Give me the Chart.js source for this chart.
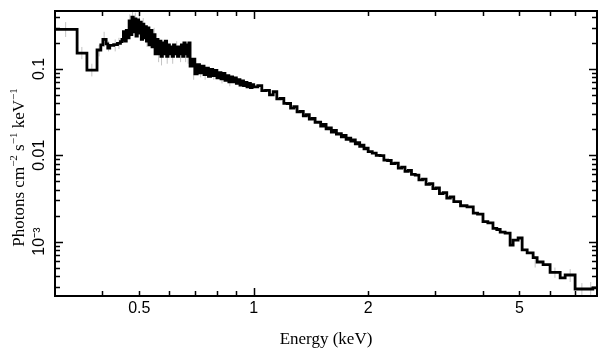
<!DOCTYPE html>
<html><head><meta charset="utf-8">
<script src="https://cdn.jsdelivr.net/npm/chart.js@4/dist/chart.umd.min.js"></script>
<style>html,body{margin:0;padding:0;background:#fff;}#wrap{width:609px;height:357px;}</style>
</head><body><div id="wrap"><canvas id="c" width="609" height="357"></canvas></div>
<script>
// Bin left edges (keV) and flux (photons cm^-2 s^-1 keV^-1)
const binLo = [
0.300,0.343,0.364,0.387,0.396,0.401,0.409,0.413,0.418,0.428,0.438,0.446,
0.450,0.454,0.458,0.462,0.466,0.470,0.474,0.478,0.482,0.486,0.490,0.494,0.498,0.502,0.506,0.510,0.514,0.518,0.522,0.526,
0.530,0.535,0.540,0.545,0.550,0.555,0.560,0.565,0.570,0.575,0.580,0.585,0.590,0.595,0.600,0.605,0.610,0.615,0.620,0.625,
0.630,0.635,0.640,0.645,0.650,0.655,0.660,0.665,0.670,0.675,
0.680,0.690,0.700,0.710,0.720,0.730,0.740,0.750,0.760,0.770,0.780,0.790,0.800,0.810,0.820,0.830,0.840,0.850,0.860,0.870,
0.880,0.890,0.900,0.910,0.920,0.930,0.940,0.950,0.960,0.970,0.980,0.990,
1.000,1.025,1.050,1.075,1.100,1.125,1.150,1.175,1.200,1.225,1.250,1.275,1.300,1.325,1.350,1.375,1.400,1.425,1.450,1.475,
1.500,1.525,1.550,1.575,1.600,1.625,1.650,1.675,1.700,1.725,1.750,1.775,1.800,1.825,1.850,1.875,1.900,1.925,1.950,1.975,
2.000,2.050,2.100,2.150,2.200,2.250,2.300,2.350,2.400,2.450,2.500,2.550,2.600,2.660,2.720,2.780,2.840,2.900,2.960,3.020,
3.080,3.150,3.220,3.290,3.360,3.430,3.500,3.580,3.640,3.780,3.880,4.010,4.130,4.260,4.360,4.450,4.585,4.726,4.813,4.961,
5.083,5.240,5.433,5.566,5.771,6.021,6.400,6.596,7.006,7.800
];
const flux = [
0.288,0.153,0.097,0.166,0.190,0.220,0.195,0.175,0.188,0.192,0.198,0.208,
0.22,0.27,0.21,0.28,0.23,0.36,0.25,0.40,0.27,0.38,0.24,0.37,0.26,0.35,0.22,0.33,0.23,0.31,0.21,0.30,
0.19,0.28,0.18,0.25,0.15,0.22,0.15,0.21,0.14,0.20,0.15,0.21,0.14,0.19,0.15,0.18,0.14,0.19,0.15,0.18,
0.14,0.18,0.15,0.19,0.14,0.20,0.15,0.19,0.14,0.20,
0.108,0.130,0.088,0.112,0.090,0.108,0.086,0.102,0.082,0.099,0.084,0.096,0.079,0.091,0.077,0.089,0.074,0.084,0.071,0.081,
0.071,0.079,0.068,0.075,0.065,0.073,0.064,0.070,0.062,0.068,0.061,0.066,
0.0620,0.0640,0.0560,0.0565,0.0500,0.0545,0.0450,0.0455,0.0400,0.0398,0.0352,0.0365,0.0318,0.0322,0.0286,0.0296,0.0262,0.0268,0.0240,0.0242,
0.0218,0.0228,0.0202,0.0207,0.0186,0.0194,0.0176,0.0178,0.0163,0.0170,0.0153,0.0158,0.0146,0.0151,0.0136,0.0140,0.0127,0.0131,0.0119,0.0121,
0.0110,0.0106,0.0100,0.0099,0.0088,0.0087,0.0080,0.0081,0.0071,0.0073,0.0065,0.0067,0.0060,0.0059,0.0052,0.0053,0.0046,0.0047,0.0041,0.0042,
0.0036,0.0037,0.0032,0.0033,0.0029,0.0029,0.0026,0.0026,0.00252,0.00214,0.00208,0.00170,0.00165,0.00142,0.00138,0.00129,0.00125,0.00091,0.00104,0.00110,
0.00080,0.00074,0.00065,0.00058,0.00054,0.00044,0.00038,0.00041,0.000282,0.00029
];
const binHi = 8.0;

// Error bars (energy, lower, upper)
const errE  = [0.320,0.353,0.375,0.392,0.404,0.415,0.432,0.442,0.472,0.480,0.488,0.500,0.512,0.524,0.547,0.562,0.572,0.592,0.612,0.627,0.642,0.662,0.672,0.695,0.725,0.745,0.785,0.825,0.865,5.50,6.20,6.80,7.30,7.70];
const errLo = [0.235,0.130,0.082,0.140,0.180,0.160,0.160,0.170,0.300,0.330,0.310,0.280,0.270,0.180,0.200,0.120,0.110,0.115,0.115,0.150,0.120,0.120,0.115,0.075,0.080,0.075,0.075,0.068,0.063,0.00050,0.00038,0.00034,0.00024,0.00024];
const errHi = [0.350,0.180,0.115,0.190,0.270,0.210,0.220,0.230,0.430,0.470,0.450,0.420,0.390,0.260,0.300,0.180,0.170,0.170,0.165,0.210,0.175,0.170,0.165,0.105,0.110,0.100,0.100,0.090,0.082,0.00067,0.00050,0.00048,0.00033,0.00034];

// Axes
const xRange = [0.3, 8.0];
const yRange = [2.34e-4, 0.47];
const xTickValues = [0.5, 1, 2, 5];
const xTickText = ['0.5', '1', '2', '5'];
const yTickValues = [0.1, 0.01, 0.001];
const yTickText = ['0.1', '0.01', '10\u207B\u00B3'];
const xTitle = 'Energy (keV)';
const yTitleParts = [['Photons cm',0],['\u22122',1],[' s',0],['\u22121',1],[' keV',0],['\u22121',1]];

function findLabel(v, vals, txt){
  for (let i=0;i<vals.length;i++){ if (Math.abs(v/vals[i]-1) < 1e-6) return txt[i]; }
  return '';
}

const stepData = binLo.map((e,i)=>({x:e, y:flux[i]}));
stepData.push({x:binHi, y:flux[flux.length-1]});
const errData = [];
errE.forEach((e,i)=>{ errData.push({x:e,y:errLo[i]},{x:e,y:errHi[i]},{x:e,y:null}); });

const framePlugin = {
  id: 'frameTicks',
  afterDraw(chart){
    const ctx = chart.ctx, ca = chart.chartArea;
    const xs = chart.scales.x, ys = chart.scales.y;
    ctx.save();
    ctx.strokeStyle = '#000';
    ctx.lineWidth = 1.5;
    const isInt = v => { const m = v/Math.pow(10, Math.floor(Math.log10(v)+1e-9)); return Math.abs(m-Math.round(m))<1e-6; };
    const isMaj = v => Math.abs(Math.log10(v)-Math.round(Math.log10(v)))<1e-6;
    ctx.beginPath();
    xs.ticks.forEach(t=>{
      const v=t.value; if(!isInt(v)) return;
      const p = Math.round(xs.getPixelForValue(v))+0.5;
      if (p < ca.left+2 || p > ca.right-2) return;
      const L = isMaj(v) ? 8 : 5;
      ctx.moveTo(p, ca.bottom); ctx.lineTo(p, ca.bottom-L);
      ctx.moveTo(p, ca.top); ctx.lineTo(p, ca.top+L);
    });
    ys.ticks.forEach(t=>{
      const v=t.value; if(!isInt(v)) return;
      const p = Math.round(ys.getPixelForValue(v))+0.5;
      if (p < ca.top+2 || p > ca.bottom-2) return;
      const L = isMaj(v) ? 8 : 5;
      ctx.moveTo(ca.left, p); ctx.lineTo(ca.left+L, p);
      ctx.moveTo(ca.right, p); ctx.lineTo(ca.right-L, p);
    });
    ctx.stroke();
    ctx.lineWidth = 2;
    ctx.strokeRect(ca.left, ca.top, ca.right-ca.left, ca.bottom-ca.top);
    // y-axis title with superscripts
    const big = '17px "Liberation Serif", "Times New Roman", serif';
    const small = '11px "Liberation Serif", "Times New Roman", serif';
    let total = 0;
    yTitleParts.forEach(([s,sup])=>{ ctx.font = sup?small:big; total += ctx.measureText(s).width; });
    ctx.translate(24, 167.5);
    ctx.rotate(-Math.PI/2);
    ctx.fillStyle = '#000';
    ctx.textBaseline = 'alphabetic';
    ctx.textAlign = 'left';
    let x = -total/2;
    yTitleParts.forEach(([s,sup])=>{
      ctx.font = sup?small:big;
      ctx.fillText(s, x, sup ? -7 : 0);
      x += ctx.measureText(s).width;
    });
    ctx.restore();
  }
};

new Chart(document.getElementById('c'), {
  type: 'line',
  data: { datasets: [
    { data: stepData, stepped: 'before', borderColor:'#000', borderWidth:2.8, pointRadius:0, fill:false, order:0, borderJoinStyle:'miter' },
    { data: errData, borderColor:'#c4c4c4', borderWidth:1, pointRadius:0, fill:false, spanGaps:false, order:1 }
  ]},
  options: {
    responsive:false, animation:false, devicePixelRatio:1,
    layout:{ padding:{ top:11, right:12, left:0, bottom:0 } },
    plugins:{ legend:{display:false}, tooltip:{enabled:false} },
    scales:{
      x:{ type:'logarithmic', min:xRange[0], max:xRange[1],
          grid:{display:false, drawTicks:false}, border:{display:false},
          ticks:{ autoSkip:false, maxRotation:0, minRotation:0, padding:3, color:'#000',
                  font:{family:'"Liberation Sans", Arial, sans-serif', size:16},
                  callback:(v)=>findLabel(v, xTickValues, xTickText) },
          title:{ display:true, text:xTitle, color:'#000', padding:{top:0,bottom:7},
                  font:{family:'"Liberation Serif", "Times New Roman", serif', size:17} },
          afterFit:(s)=>{ s.height = 61; } },
      y:{ type:'logarithmic', min:yRange[0], max:yRange[1],
          grid:{display:false, drawTicks:false}, border:{display:false},
          ticks:{ autoSkip:false, minRotation:90, maxRotation:90, crossAlign:'center', padding:0, color:'#000',
                  font:{family:'"Liberation Sans", Arial, sans-serif', size:16},
                  callback:(v)=>findLabel(v, yTickValues, yTickText) },
          afterFit:(s)=>{ s.width = 55; } }
    }
  },
  plugins:[framePlugin]
});
</script></body></html>
